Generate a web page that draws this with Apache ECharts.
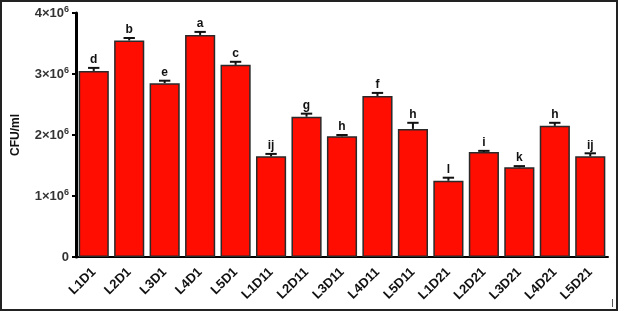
<!DOCTYPE html>
<html><head><meta charset="utf-8">
<script src="https://cdn.jsdelivr.net/npm/echarts@6/dist/echarts.min.js"></script>
<style>html,body{margin:0;padding:0;background:#fff}#c{width:618px;height:311px;box-sizing:border-box;border:2px solid #222}</style>
</head><body><div id="c"></div>
<script>
const categories = ['L1D1','L2D1','L3D1','L4D1','L5D1','L1D11','L2D11','L3D11','L4D11','L5D11','L1D21','L2D21','L3D21','L4D21','L5D21'];
const values = [3.05e6,3.55e6,2.85e6,3.64e6,3.15e6,1.65e6,2.30e6,1.98e6,2.64e6,2.10e6,1.25e6,1.72e6,1.47e6,2.15e6,1.65e6];
const errors = [0.05e6,0.04e6,0.04e6,0.05e6,0.05e6,0.04e6,0.05e6,0.02e6,0.05e6,0.10e6,0.05e6,0.02e6,0.02e6,0.05e6,0.05e6];
const letters = ['d','b','e','a','c','ij','g','h','f','h','l','i','k','h','ij'];
const yTicks = [0,1e6,2e6,3e6,4e6];

const chart = echarts.init(document.getElementById('c'));
const font = 'Liberation Sans, Arial, sans-serif';
chart.setOption({
  animation:false,
  grid:{left:71,right:8,top:11,bottom:52},
  xAxis:{type:'category',data:categories,
    axisLine:{lineStyle:{color:'#000',width:2}},
    axisTick:{alignWithLabel:true,length:3,lineStyle:{color:'#000',width:2}},
    axisLabel:{rotate:45,fontFamily:font,fontWeight:'bold',fontSize:13,color:'#111',margin:13,interval:0}},
  yAxis:{type:'value',min:0,max:4e6,interval:1e6,
    name:'CFU/ml',nameLocation:'middle',nameGap:54,nameRotate:90,
    nameTextStyle:{fontFamily:font,fontWeight:'bold',fontSize:12,color:'#111'},
    splitLine:{show:false},
    axisLine:{show:true,lineStyle:{color:'#000',width:3}},
    axisTick:{show:true,length:4,lineStyle:{color:'#000',width:2}},
    axisLabel:{fontFamily:font,fontWeight:'bold',fontSize:13,color:'#333',margin:7,
      formatter:v=>v===0?'0':'{b|'+(v/1e6)+'×10}{s|6}',
      rich:{b:{fontFamily:font,fontWeight:'bold',fontSize:13,color:'#333'},s:{fontFamily:font,fontWeight:'bold',fontSize:9,color:'#333',verticalAlign:'top',padding:[0,0,7,0]}}}},
  series:[
    {type:'bar',data:values,barCategoryGap:'15%',
      itemStyle:{color:'#fe0d00',borderColor:'#2a2a2a',borderWidth:1.5}},
    {type:'custom',data:values.map((v,i)=>[i,v,errors[i],letters[i]]),z:10,
      renderItem:function(params,api){
        const i=api.value(0),v=api.value(1),e=api.value(2);
        const base=api.coord([i,v]);const top=api.coord([i,v+e]);
        const half=api.size([1,0])[0]*0.16;
        return {type:'group',children:[
          {type:'line',shape:{x1:base[0],y1:base[1],x2:top[0],y2:top[1]},style:{stroke:'#111',lineWidth:2}},
          {type:'line',shape:{x1:top[0]-half,y1:top[1],x2:top[0]+half,y2:top[1]},style:{stroke:'#111',lineWidth:2}},
          {type:'text',x:top[0],y:top[1]-2,style:{text:letters[params.dataIndex],fontFamily:font,fontWeight:'bold',fontSize:12,fill:'#111',align:'center',verticalAlign:'bottom'}}
        ]};
      }}
  ]
});
</script>
<div style="position:absolute;left:612px;top:299px;width:1px;height:8px;background:#555"></div>
</body></html>
